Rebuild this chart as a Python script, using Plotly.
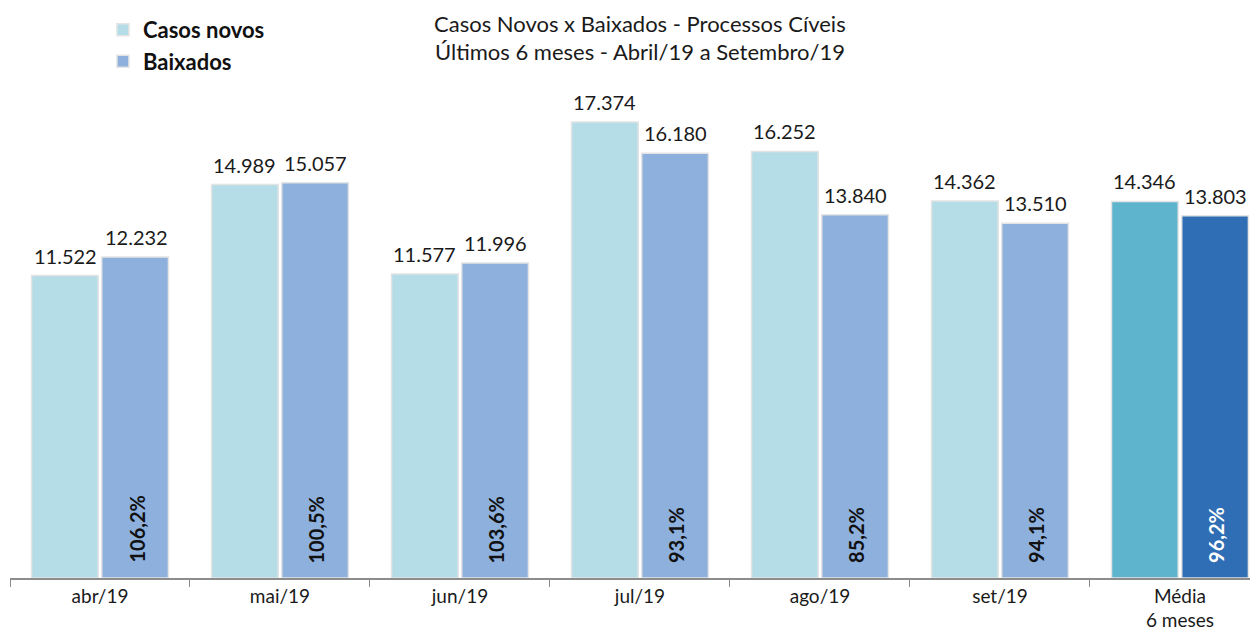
import plotly.graph_objects as go

categories = ["abr/19", "mai/19", "jun/19", "jul/19", "ago/19", "set/19", "Média<br>6 meses"]
casos_novos = [11522, 14989, 11577, 17374, 16252, 14362, 14346]
baixados = [12232, 15057, 11996, 16180, 13840, 13510, 13803]
percentuais = ["106,2%", "100,5%", "103,6%", "93,1%", "85,2%", "94,1%", "96,2%"]
title_lines = ["Casos Novos x Baixados - Processos Cíveis",
               "Últimos 6 meses - Abril/19 a Setembro/19"]

font_family = "Lato, 'Open Sans', sans-serif"
c_casos = ["#B4DDE7"] * 6 + ["#5EB4CD"]
c_baix = ["#8DB0DD"] * 6 + ["#2F6DB5"]


def fmt(v):
    return f"{v:,.0f}".replace(",", ".")


fig = go.Figure()
fig.add_trace(go.Bar(
    x=categories, y=casos_novos, name="<b>Casos novos</b>",
    marker=dict(color=c_casos, line=dict(color="#E4E4E4", width=1.5)),
))
fig.add_trace(go.Bar(
    x=categories, y=baixados, name="<b>Baixados</b>",
    marker=dict(color=c_baix, line=dict(color="#E4E4E4", width=1.5)),
))

for i, cat in enumerate(categories):
    for val, dx in ((casos_novos[i], -35), (baixados[i], 36)):
        fig.add_annotation(
            x=cat, y=val, xref="x", yref="y", text=fmt(val),
            showarrow=False, xshift=dx, yshift=6, yanchor="bottom",
            font=dict(size=20, family=font_family, color="#1a1a1a"),
        )
    fig.add_annotation(
        x=cat, y=0, xref="x", yref="y", text="<b>" + percentuais[i] + "</b>",
        textangle=-90, showarrow=False, xshift=36, yshift=13,
        yanchor="bottom", xanchor="center",
        font=dict(size=20, family=font_family,
                  color="white" if i == len(categories) - 1 else "#111111"),
    )

for line, ypos in zip(title_lines, (1.057, 1.003)):
    fig.add_annotation(
        x=0.5016, y=ypos, xref="paper", yref="paper", text=line,
        showarrow=False, xanchor="center", yanchor="middle",
        font=dict(size=22, family=font_family, color="#1a1a1a"),
    )

fig.update_layout(
    width=1258, height=637,
    margin=dict(l=2, r=0, t=45, b=67, autoexpand=False),
    paper_bgcolor="white", plot_bgcolor="white",
    barmode="group", bargap=0.22, bargroupgap=0.05,
    showlegend=True,
    legend=dict(x=0.074, y=1.084, xanchor="left", yanchor="top",
                font=dict(size=22, family=font_family, color="#111111"),
                itemwidth=30, tracegroupgap=0, bgcolor="rgba(0,0,0,0)"),
    font=dict(family=font_family),
)
fig.update_xaxes(
    range=[-0.5, 6.478], showline=True, linecolor="#8c8c8c", linewidth=1.5,
    ticks="outside", tickson="boundaries", ticklen=7, tickcolor="#8c8c8c",
    tickfont=dict(size=19, family=font_family, color="#1a1a1a"),
    showgrid=False, automargin=False,
)
fig.update_yaxes(range=[0, 20000], visible=False, showgrid=False, automargin=False)

fig.write_html("out.html")
